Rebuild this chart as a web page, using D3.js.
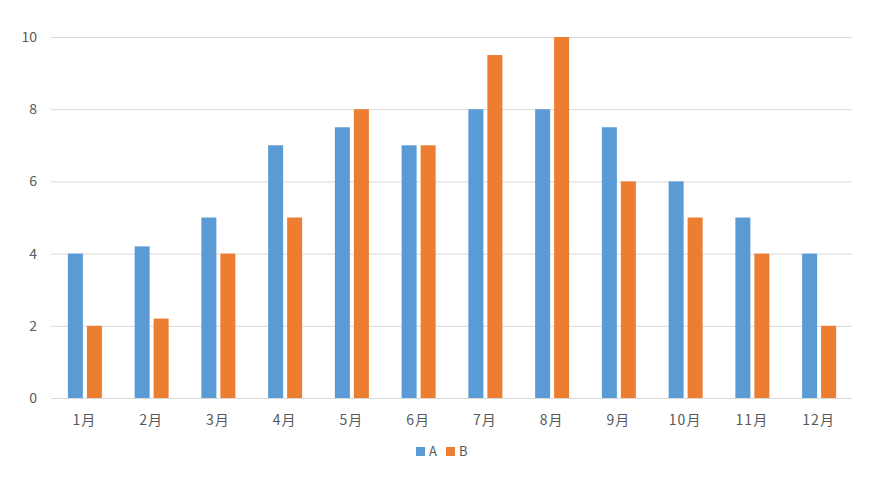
<!DOCTYPE html>
<html><head><meta charset="utf-8">
<script src="https://cdn.jsdelivr.net/npm/d3@7"></script>
<style>body{margin:0;background:#fff;} text{font-family:"Noto Sans CJK JP","Noto Sans",sans-serif;}</style>
</head><body>
<svg id="c" width="880" height="489"></svg>
<script>
const categories = ["1月","2月","3月","4月","5月","6月","7月","8月","9月","10月","11月","12月"];
const seriesA = [4,4.2,5,7,7.5,7,8,8,7.5,6,5,4];
const seriesB = [2,2.2,4,5,8,7,9.5,10,6,5,4,2];
const seriesNames = ["A","B"];
const yTicks = [0,2,4,6,8,10];
const colors = ["#5B9BD5","#ED7D31"];

(function(){
const svg = d3.select("#c");
const pL = 51, pR = 852, pT = 37, pB = 398;
const x = d3.scaleBand().domain(categories).range([pL,pR]).paddingInner(0).paddingOuter(0);
const y = d3.scaleLinear().domain([0,10]).range([pB,pT]);
const bw = 15, gap = 4;

svg.append("g").selectAll("line").data(yTicks).join("line")
  .attr("x1",pL).attr("x2",pR)
  .attr("y1",d=>y(d)+0.5).attr("y2",d=>y(d)+0.5)
  .attr("stroke","#d9d9d9").attr("stroke-width",1);

svg.append("g").selectAll("text").data(yTicks).join("text")
  .attr("x",37).attr("y",d=>y(d)+5).attr("text-anchor","end")
  .attr("font-size",14).attr("fill","#595959").text(d=>d);

const data = [seriesA, seriesB];
data.forEach((s,si)=>{
  svg.append("g").selectAll("rect").data(s).join("rect")
    .attr("x",(d,i)=>x(categories[i])+x.bandwidth()/2 - (bw+gap/2) + si*(bw+gap) + 0.5)
    .attr("y",d=>y(d)).attr("width",bw).attr("height",d=>y(0)-y(d))
    .attr("fill",colors[si]);
});

svg.append("g").selectAll("text").data(categories).join("text")
  .attr("x",d=>x(d)+x.bandwidth()/2).attr("y",425).attr("text-anchor","middle")
  .attr("font-size",14).attr("letter-spacing",1).attr("fill","#595959").text(d=>d);

const lg = svg.append("g");
const lx = [416, 446];
seriesNames.forEach((n,i)=>{
  lg.append("rect").attr("x",lx[i]).attr("y",447).attr("width",9).attr("height",9).attr("fill",colors[i]);
  lg.append("text").attr("x",lx[i]+13).attr("y",456).attr("font-size",13).attr("fill","#595959").text(n);
});
})();
</script>
</body></html>
